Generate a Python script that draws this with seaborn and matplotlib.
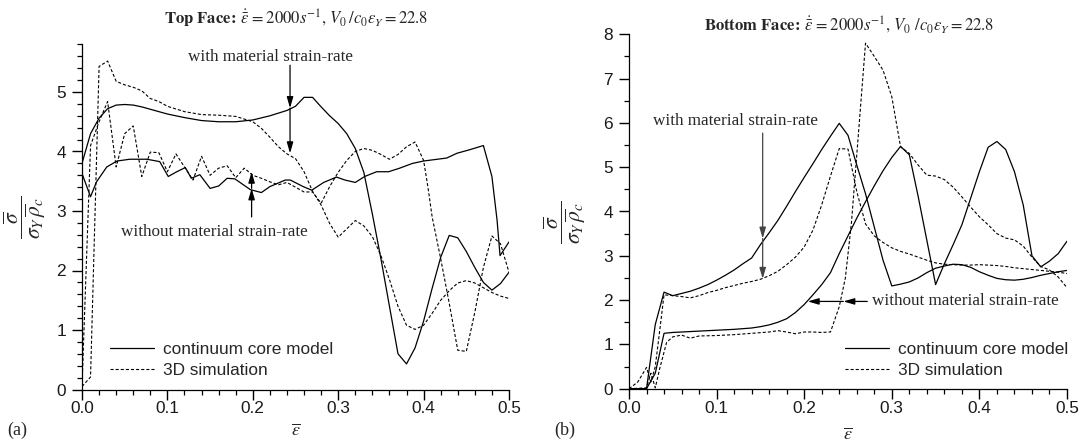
import matplotlib
matplotlib.use("Agg")
import matplotlib.pyplot as plt
import seaborn as sns
import pandas as pd
from matplotlib.lines import Line2D
from matplotlib.ticker import MultipleLocator

# ---------------- Top face (a) ----------------
top_cont_rate_x = [0, .01, .02, .03, .04, .05, .06, .07, .08, .09, .10, .12, .14, .16, .18, .20, .22, .24, .25,
                   .26, .27, .28, .29, .30, .31, .32, .33, .34, .35, .36, .37, .38, .39, .40, .41, .42, .43, .44,
                   .45, .46, .47, .48, .49, .50]
top_cont_rate_y = [3.80, 4.30, 4.56, 4.72, 4.78, 4.79, 4.78, 4.75, 4.71, 4.67, 4.63, 4.57, 4.52, 4.50, 4.50, 4.53,
                   4.60, 4.69, 4.76, 4.91, 4.91, 4.75, 4.60, 4.47, 4.30, 4.05, 3.65, 2.95, 2.20, 1.40, 0.60, 0.43,
                   0.70, 1.15, 1.70, 2.22, 2.59, 2.55, 2.32, 2.05, 1.80, 1.67, 1.78, 1.97]

top_cont_norate_x = [0, .010, .017, .029, .041, .056, .076, .091, .101, .111, .121, .128, .138, .150, .160, .170,
                     .179, .197, .210, .220, .238, .244, .259, .269, .283, .298, .308, .320, .331, .345, .359, .372,
                     .387, .400, .427, .439, .454, .470, .480, .486, .4895, .50]
top_cont_norate_y = [3.63, 3.24, 3.49, 3.74, 3.84, 3.87, 3.87, 3.83, 3.58, 3.66, 3.73, 3.55, 3.61, 3.38, 3.42, 3.55,
                     3.54, 3.36, 3.31, 3.41, 3.52, 3.52, 3.41, 3.35, 3.48, 3.57, 3.52, 3.48, 3.58, 3.66, 3.66, 3.72,
                     3.80, 3.84, 3.89, 3.97, 4.03, 4.10, 3.58, 2.85, 2.25, 2.48]

top_sim_rate_x = [0, .01, .02, .03, .04, .05, .06, .07, .08, .09, .10, .12, .14, .16, .18, .20, .21, .22, .23, .24,
                  .25, .26, .27, .28, .29, .30, .31, .32, .33, .34, .35, .36, .37, .38, .39, .40, .41, .42, .43,
                  .44, .45, .46, .47, .48, .49, .50]
top_sim_rate_y = [0.05, 0.21, 5.43, 5.52, 5.18, 5.12, 5.08, 5.02, 4.89, 4.84, 4.76, 4.67, 4.62, 4.61, 4.59, 4.50,
                  4.39, 4.24, 4.08, 3.96, 3.88, 3.66, 3.33, 3.10, 2.79, 2.56, 2.70, 2.84, 2.75, 2.57, 2.25, 1.85,
                  1.40, 1.08, 1.01, 1.08, 1.28, 1.50, 1.66, 1.79, 1.83, 1.79, 1.71, 1.63, 1.57, 1.53]

top_sim_norate_x = [0, .01, .02, .03, .04, .05, .06, .07, .08, .09, .10, .11, .12, .13, .14, .15, .16, .17, .18,
                    .19, .20, .21, .22, .23, .24, .25, .26, .27, .28, .29, .30, .31, .32, .33, .34, .35, .36, .37,
                    .38, .39, .40, .405, .41, .42, .43, .44, .45, .46, .47, .48, .49, .50]
top_sim_norate_y = [0.05, 4.10, 4.50, 4.84, 3.74, 4.30, 4.43, 3.58, 3.99, 3.98, 3.66, 3.96, 3.74, 3.52, 3.92, 3.60,
                    3.72, 3.76, 3.56, 3.72, 3.60, 3.55, 3.49, 3.44, 3.48, 3.40, 3.32, 3.32, 3.13, 3.41, 3.65, 3.85,
                    4.00, 4.05, 4.02, 3.95, 3.87, 3.95, 4.08, 4.16, 3.85, 3.41, 2.90, 2.20, 1.45, 0.66, 0.64, 1.30,
                    2.05, 2.58, 2.45, 1.97]

# ---------------- Bottom face (b) ----------------
bot_cont_rate_x = [0, .02, .03, .04, .05, .06, .07, .08, .09, .10, .11, .12, .13, .14, .15, .16, .17, .18, .19,
                   .20, .21, .22, .23, .24, .25, .26, .27, .28, .29, .30, .31, .32, .33, .34, .35, .36, .37, .38,
                   .39, .40, .41, .42, .43, .44, .45, .46, .47, .48, .49, .50]
bot_cont_rate_y = [0, 0, 1.45, 2.18, 2.10, 2.15, 2.20, 2.27, 2.35, 2.45, 2.56, 2.68, 2.82, 2.95, 3.25, 3.52, 3.80,
                   4.12, 4.45, 4.77, 5.08, 5.40, 5.70, 5.99, 5.72, 5.05, 4.40, 3.65, 2.90, 2.32, 2.36, 2.41, 2.50,
                   2.62, 2.72, 2.77, 2.81, 2.80, 2.74, 2.64, 2.56, 2.49, 2.46, 2.45, 2.47, 2.51, 2.56, 2.60, 2.64,
                   2.67]

bot_cont_norate_x = [0, .02, .03, .04, .05, .06, .08, .10, .12, .14, .15, .16, .17, .18, .19, .20, .21, .22, .23,
                     .24, .25, .26, .27, .28, .29, .30, .31, .32, .33, .34, .35, .36, .37, .38, .39, .40, .41, .42,
                     .43, .44, .45, .46, .47, .48, .49, .50]
bot_cont_norate_y = [0, 0, 0.35, 1.25, 1.27, 1.28, 1.30, 1.32, 1.34, 1.37, 1.40, 1.44, 1.50, 1.58, 1.72, 1.90, 2.12,
                     2.35, 2.62, 3.05, 3.45, 3.85, 4.22, 4.58, 4.92, 5.22, 5.47, 5.28, 4.35, 3.35, 2.35, 2.82, 3.25,
                     3.70, 4.30, 4.90, 5.45, 5.58, 5.40, 4.90, 4.15, 3.00, 2.75, 2.88, 3.05, 3.33]

bot_sim_rate_x = [0, .01, .02, .025, .03, .035, .04, .05, .06, .07, .08, .09, .10, .11, .12, .13, .14, .15, .16,
                  .17, .18, .19, .20, .21, .22, .23, .24, .25, .26, .27, .28, .29, .30, .31, .32, .33, .34, .35,
                  .36, .37, .38, .39, .40, .41, .42, .43, .44, .45, .46, .47, .48, .49, .50]
bot_sim_rate_y = [0, 0.15, 0.48, 0.15, 0.50, 1.30, 2.12, 2.10, 2.08, 2.05, 2.10, 2.17, 2.22, 2.28, 2.33, 2.38, 2.42,
                  2.47, 2.55, 2.65, 2.80, 2.97, 3.20, 3.58, 4.15, 4.80, 5.42, 5.41, 4.45, 3.72, 3.45, 3.30, 3.18,
                  3.10, 3.04, 2.97, 2.90, 2.84, 2.81, 2.80, 2.79, 2.79, 2.80, 2.79, 2.78, 2.76, 2.73, 2.71, 2.69,
                  2.67, 2.65, 2.63, 2.60]

bot_sim_norate_x = [0, .02, .025, .03, .035, .043, .05, .06, .07, .08, .10, .12, .14, .16, .17, .18, .19, .20, .21,
                    .22, .23, .24, .247, .254, .27, .28, .29, .30, .31, .32, .33, .34, .35, .36, .37, .38, .39, .40,
                    .41, .42, .43, .44, .45, .46, .47, .48, .49, .50]
bot_sim_norate_y = [0, 0.02, 0.35, 0.02, 0.45, 1.05, 1.17, 1.21, 1.14, 1.19, 1.20, 1.22, 1.25, 1.28, 1.31, 1.28,
                    1.24, 1.28, 1.28, 1.27, 1.28, 1.85, 2.50, 3.76, 7.80, 7.50, 7.19, 6.59, 5.46, 5.31, 5.05, 4.82,
                    4.80, 4.72, 4.55, 4.33, 4.10, 3.88, 3.70, 3.50, 3.40, 3.36, 3.22, 2.97, 2.76, 2.68, 2.52, 2.28]

legend_labels = ["continuum core model", "3D simulation"]
ann_with = "with material strain-rate"
ann_without = "without material strain-rate"
title_top = (r"$\mathbf{Top\ Face}\!\mathbf{:}\,\dot{\bar{\varepsilon}}\, = 2000s^{\mathrm{-1}},"
             r"\, V_0\,/c_0\varepsilon_Y = 22.8$")
title_bot = (r"$\mathbf{Bottom\ Face}\!\mathbf{:}\,\dot{\bar{\varepsilon}}\, = 2000s^{\mathrm{-1}},"
             r"\, V_0\ /c_0\varepsilon_Y = 22.8$")

# ---------------- styling ----------------
sns.set_theme(style="ticks")
plt.rcParams['font.family'] = ['Liberation Sans', 'DejaVu Sans']
plt.rcParams['mathtext.fontset'] = 'stix'
plt.rcParams['axes.linewidth'] = 0.9
SERIF = ['Liberation Serif', 'DejaVu Serif']
DASH = (0, (2.8, 1.8))
LW_S = 0.9
LW_D = 0.8

fig = plt.figure(figsize=(10.83, 4.44), dpi=100)
ax1 = fig.add_axes([82 / 1083, (444 - 389.5) / 444, 427 / 1083, 345.1 / 444])
ax2 = fig.add_axes([629 / 1083, (444 - 388.7) / 444, 438 / 1083, 354.4 / 444])


def draw(ax, xs, ys, dashed):
    df = pd.DataFrame({"x": xs, "y": ys})
    if dashed:
        sns.lineplot(data=df, x="x", y="y", ax=ax, color="black", lw=LW_D, linestyle=DASH,
                     sort=False, estimator=None)
    else:
        sns.lineplot(data=df, x="x", y="y", ax=ax, color="black", lw=LW_S, linestyle="-",
                     sort=False, estimator=None)


draw(ax1, top_cont_rate_x, top_cont_rate_y, False)
draw(ax1, top_cont_norate_x, top_cont_norate_y, False)
draw(ax1, top_sim_rate_x, top_sim_rate_y, True)
draw(ax1, top_sim_norate_x, top_sim_norate_y, True)

draw(ax2, bot_cont_rate_x, bot_cont_rate_y, False)
draw(ax2, bot_cont_norate_x, bot_cont_norate_y, False)
draw(ax2, bot_sim_rate_x, bot_sim_rate_y, True)
draw(ax2, bot_sim_norate_x, bot_sim_norate_y, True)

ax1.set_xlim(0, 0.5)
ax1.set_ylim(0, 5.8)
ax2.set_xlim(0, 0.5)
ax2.set_ylim(0, 8)

for ax, ymaj, ymin in [(ax1, 1, 0.2), (ax2, 1, 0.5)]:
    sns.despine(ax=ax)
    ax.xaxis.set_major_locator(MultipleLocator(0.1))
    ax.xaxis.set_minor_locator(MultipleLocator(0.02))
    ax.yaxis.set_major_locator(MultipleLocator(ymaj))
    ax.yaxis.set_minor_locator(MultipleLocator(ymin))
    ax.xaxis.set_major_formatter(matplotlib.ticker.FormatStrFormatter('%.1f'))
    ax.tick_params(which='major', length=7, width=1.0, labelsize=12.4, direction='out', color='black',
                   labelcolor='#1a1a1a')
    ax.tick_params(which='minor', length=3.5, width=0.9, direction='out', color='black')
    ax.tick_params(axis='x', which='major', pad=1.5)
    ax.tick_params(axis='y', which='major', pad=4.5)
    ax.set_facecolor('white')
    for sp in ax.spines.values():
        sp.set_color('black')
    ax.set_xlabel(r"$\overline{\varepsilon}$", fontsize=13)
    ax.set_ylabel(r"$\dfrac{\overline{\sigma}}{\sigma_Y\,\overline{\rho}_c}$", fontsize=15.5)

ax1.xaxis.set_label_coords(0.5, -0.095)
ax2.xaxis.set_label_coords(0.5, -0.105)
ax1.yaxis.set_label_coords(-0.08, 0.5)
ax2.yaxis.set_label_coords(-0.094, 0.47)

AP = dict(arrowstyle='-|>,head_length=0.55,head_width=0.16', color='black', lw=0.9,
          shrinkA=0, shrinkB=0, mutation_scale=12)

# annotations (a)
ax1.text(0.221, 5.59, ann_with, family=SERIF, fontsize=12.3, ha='center', va='center')
ax1.annotate('', xy=(0.2436, 4.73), xytext=(0.2436, 5.45), arrowprops=AP)
ax1.annotate('', xy=(0.2436, 3.97), xytext=(0.2436, 4.73), arrowprops=AP)
ax1.text(0.155, 2.65, ann_without, family=SERIF, fontsize=12.3, ha='center', va='center')
ax1.annotate('', xy=(0.1986, 3.38), xytext=(0.1986, 2.90), arrowprops=AP)
ax1.annotate('', xy=(0.1986, 3.66), xytext=(0.1986, 3.38), arrowprops=AP)

# annotations (b)
AP2 = dict(AP, color='#444444')
ax2.text(0.122, 6.05, ann_with, family=SERIF, fontsize=12.3, ha='center', va='center')
ax2.annotate('', xy=(0.1526, 3.39), xytext=(0.1526, 5.77), arrowprops=AP2)
ax2.annotate('', xy=(0.1526, 2.48), xytext=(0.1526, 3.39), arrowprops=AP2)
ax2.text(0.277, 1.97, ann_without, family=SERIF, fontsize=12.3, ha='left', va='center')
ax2.annotate('', xy=(0.2447, 1.97), xytext=(0.272, 1.97), arrowprops=AP)
ax2.annotate('', xy=(0.204, 1.97), xytext=(0.2447, 1.97), arrowprops=AP)

# legends
handles = [Line2D([], [], color='black', lw=LW_S, linestyle='-'),
           Line2D([], [], color='black', lw=LW_D, linestyle=DASH)]
for ax, anchor in [(ax1, (0.0656, 0.137)), (ax2, (0.493, 0.131))]:
    ax.legend(handles, legend_labels, loc='upper left', bbox_to_anchor=anchor, frameon=False,
              fontsize=12.4, handlelength=2.55, handletextpad=0.55, labelspacing=0.33,
              borderpad=0, borderaxespad=0)

# titles and panel labels
fig.text(296 / 1083, 1 - 19 / 444, title_top, fontsize=12, ha='center', va='center')
fig.text(849 / 1083, 1 - 25 / 444, title_bot, fontsize=12, ha='center', va='center')
fig.text(17 / 1083, 1 - 430 / 444, "(a)", family=SERIF, fontsize=13, ha='center', va='center')
fig.text(565 / 1083, 1 - 430 / 444, "(b)", family=SERIF, fontsize=13, ha='center', va='center')

fig.savefig("out.png", dpi=100, facecolor='white')
